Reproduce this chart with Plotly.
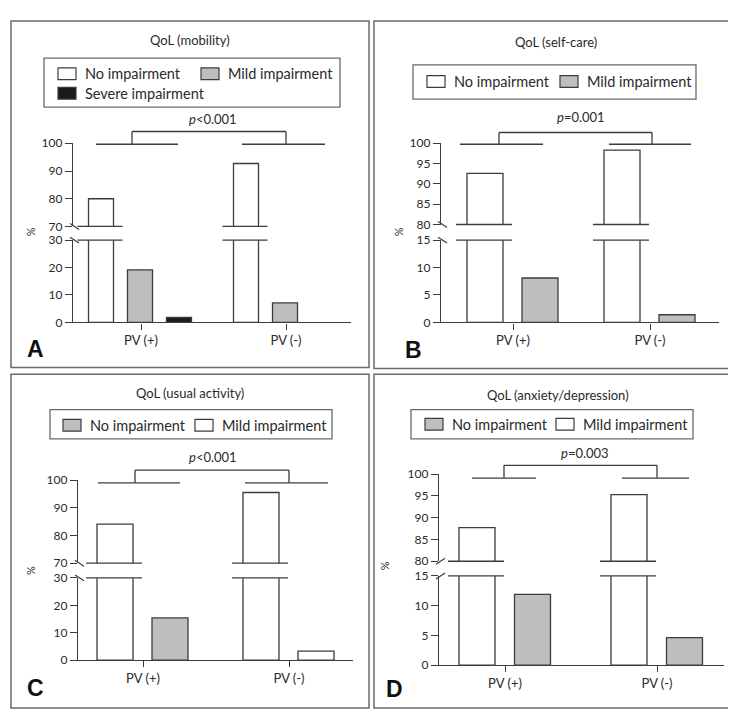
import plotly.graph_objects as go

W, H = 736, 712
groups = ["PV (+)", "PV (-)"]

titles = ["QoL (mobility)", "QoL (self-care)", "QoL (usual activity)", "QoL (anxiety/depression)"]
p_labels = ["<i>p</i><0.001", "<i>p</i>=0.001", "<i>p</i><0.001", "<i>p</i>=0.003"]
panel_letters = ["A", "B", "C", "D"]

# ---- values (%) ----
a_no_impairment = [80.0, 92.7]
a_mild_impairment = [19.2, 7.1]
a_severe_impairment = [1.8, None]
b_no_impairment = [92.6, 98.3]
b_mild_impairment = [8.1, 1.4]
c_bar1 = [84.1, 95.5]
c_bar2 = [15.4, 3.3]
d_bar1 = [87.7, 95.3]
d_bar2 = [11.9, 4.6]

# legend labels as printed
a_legend = ["No impairment", "Mild impairment", "Severe impairment"]
b_legend = ["No impairment", "Mild impairment"]
c_legend = ["No impairment", "Mild impairment"]
d_legend = ["No impairment", "Mild impairment"]

# tick values of the broken axes
ticks_30_low = [0, 10, 20, 30]
ticks_30_high = [70, 80, 90, 100]
ticks_15_low = [0, 5, 10, 15]
ticks_15_high = [80, 85, 90, 95, 100]

# ---- styles ----
WHITE, GREY, BLACK = "#ffffff", "#bebebe", "#1a1a1a"
LINE = "#3c3c3c"
FRAME = "#6a6a6a"
FONT = "Lato"
TXT = "#2a2a2a"

panels = [
    dict(series=[a_no_impairment, a_mild_impairment, a_severe_impairment],
         colors=[[WHITE, WHITE], [GREY, GREY], [BLACK, BLACK]],
         legend=a_legend, swatch=[WHITE, GREY, BLACK],
         low=ticks_30_low, high=ticks_30_high,
         frame=(3, 5, 361, 359), xdom=(65, 343), ticks_px=(133, 278),
         upper=(130, 215), lower=(229, 313),
         offs=[-40, -1, 38], bw=25,
         title_xy=(182, 25), p_xy=(205, 105), letter_xy=(27, 340), pct_xy=(22, 221),
         legbox=(36, 43, 332, 93), legitems=[(50, 59), (193, 59), (50, 79)],
         br_top=12, br_grp=1, br_l=(-45, 37), br_r=(-44, 39), br_v=(-9, 0), slash=1),
    dict(series=[b_no_impairment, b_mild_impairment],
         colors=[[WHITE, WHITE], [GREY, GREY]],
         legend=b_legend, swatch=[WHITE, GREY],
         low=ticks_15_low, high=ticks_15_high,
         frame=(366, 5, 730, 360), xdom=(433, 711), ticks_px=(505, 642),
         upper=(130, 213), lower=(229, 313),
         offs=[-28, 27], bw=36,
         title_xy=(548, 27), p_xy=(573, 103), letter_xy=(405, 341), pct_xy=(390, 221),
         legbox=(405, 50, 688, 85), legitems=[(419, 67), (552, 67)],
         br_top=11, br_grp=1, br_l=(-53, 30), br_r=(-41, 41), br_v=(-14, 2), slash=1),
    dict(series=[c_bar1, c_bar2],
         colors=[[WHITE, WHITE], [GREY, WHITE]],
         legend=c_legend, swatch=[GREY, WHITE],
         low=ticks_30_low, high=ticks_30_high,
         frame=(3, 366, 361, 707), xdom=(70, 345), ticks_px=(135, 281),
         upper=(474, 559), lower=(574, 658),
         offs=[-28, 27], bw=36,
         title_xy=(182, 385), p_xy=(205, 450), letter_xy=(27, 686), pct_xy=(22, 567),
         legbox=(42, 402, 324, 432), legitems=[(55, 418), (187, 418)],
         br_top=10, br_grp=3, br_l=(-45, 37), br_r=(-44, 39), br_v=(-8, 0), slash=1),
    dict(series=[d_bar1, d_bar2],
         colors=[[WHITE, WHITE], [GREY, GREY]],
         legend=d_legend, swatch=[GREY, WHITE],
         low=ticks_15_low, high=ticks_15_high,
         frame=(366, 366, 730, 707), xdom=(431, 716), ticks_px=(497, 649),
         upper=(468, 557), lower=(572, 663),
         offs=[-28, 27.5], bw=36,
         title_xy=(550, 387), p_xy=(577, 446), letter_xy=(386, 687), pct_xy=(376, 562),
         legbox=(403, 402, 685, 432), legitems=[(417, 417), (548, 417)],
         br_top=9, br_grp=4, br_l=(-33, 31), br_r=(-35, 32), br_v=(-1, 0), slash=-1),
]


def fx(px):
    return px / W


def fy(py):
    return 1 - py / H


fig = go.Figure()
shapes, annotations = [], []
layout_axes = {}

for i, pn in enumerate(panels):
    xid = "x" if i == 0 else f"x{i + 1}"
    lo_n, hi_n = 2 * i + 1, 2 * i + 2
    ylo = "y" if lo_n == 1 else f"y{lo_n}"
    yhi = f"y{hi_n}"
    xkey = "xaxis" if i == 0 else f"xaxis{i + 1}"
    ylo_key = "yaxis" if lo_n == 1 else f"yaxis{lo_n}"
    yhi_key = f"yaxis{hi_n}"

    t0, t1 = pn["ticks_px"]
    ppu = (t1 - t0) / (len(groups) - 1)
    x0px, x1px = pn["xdom"]
    xr = [-(t0 - x0px) / ppu, (len(groups) - 1) + (x1px - t1) / ppu]
    low, high = pn["low"], pn["high"]
    lo_max, hi_min, hi_max = max(low), min(high), max(high)

    axis_common = dict(showline=True, linecolor=LINE, linewidth=1.3, ticks="outside",
                       tickcolor=LINE, tickwidth=1.3, showgrid=False, zeroline=False,
                       fixedrange=True)
    layout_axes[xkey] = dict(axis_common, domain=[fx(x0px), fx(x1px)], anchor=ylo,
                             type="category", range=xr, ticklen=6,
                             tickfont=dict(family=FONT, size=13, color=TXT),
                             categoryorder="array", categoryarray=groups)
    yfont = dict(family=FONT, size=12, color=TXT)
    layout_axes[ylo_key] = dict(axis_common, domain=[fy(pn["lower"][1]), fy(pn["lower"][0])],
                                anchor=xid, range=[0, lo_max], tickvals=low, ticklen=7,
                                tickfont=yfont)
    layout_axes[yhi_key] = dict(axis_common, domain=[fy(pn["upper"][1]), fy(pn["upper"][0])],
                                anchor=xid, range=[hi_min, hi_max], tickvals=high, ticklen=7,
                                tickfont=yfont)

    bw = pn["bw"] / ppu
    for k, vals in enumerate(pn["series"]):
        off = pn["offs"][k] / ppu - bw / 2
        for yax in (ylo, yhi):
            fig.add_trace(go.Bar(
                x=groups, y=vals, xaxis=xid, yaxis=yax, width=bw, offset=off,
                marker=dict(color=pn["colors"][k], line=dict(color=LINE, width=1.3)),
                name=pn["legend"][k] if k < len(pn["legend"]) else "",
                showlegend=False, hoverinfo="x+y"))
        # break lines across bars reaching the upper segment
        for g, v in enumerate(vals):
            if v is not None and v > hi_min:
                c = g + pn["offs"][k] / ppu
                xa0 = max(xr[0] + 4 / ppu, c - bw / 2 - 11 / ppu)
                xa1 = c + bw / 2 + 9 / ppu
                for yref, yv in ((yhi + " domain", 0), (ylo + " domain", 1)):
                    shapes.append(dict(type="line", xref=xid, yref=yref, x0=xa0, x1=xa1,
                                       y0=yv, y1=yv, line=dict(color=LINE, width=1.3)))

    # axis break slashes
    s = pn["slash"]
    for ypx in (pn["upper"][1], pn["lower"][0]):
        shapes.append(dict(type="line", xref="paper", yref="paper",
                           x0=fx(x0px - 3), x1=fx(x0px + 6),
                           y0=fy(ypx - 3 * s), y1=fy(ypx + 3 * s),
                           line=dict(color=LINE, width=1.2)))

    # significance bracket
    up_h = pn["upper"][1] - pn["upper"][0]
    yref = yhi + " domain"
    ytop = 1 + pn["br_top"] / up_h
    ygrp = 1 - pn["br_grp"] / up_h
    vx = []
    for g, (l, r) in enumerate((pn["br_l"], pn["br_r"])):
        shapes.append(dict(type="line", xref=xid, yref=yref, x0=g + l / ppu, x1=g + r / ppu,
                           y0=ygrp, y1=ygrp, line=dict(color=LINE, width=1.3)))
        xv = g + pn["br_v"][g] / ppu
        vx.append(xv)
        shapes.append(dict(type="line", xref=xid, yref=yref, x0=xv, x1=xv,
                           y0=ygrp, y1=ytop, line=dict(color=LINE, width=1.3)))
    shapes.append(dict(type="line", xref=xid, yref=yref, x0=vx[0], x1=vx[1],
                       y0=ytop, y1=ytop, line=dict(color=LINE, width=1.3)))

    # panel frame
    f0, f1, f2, f3 = pn["frame"]
    shapes.append(dict(type="rect", xref="paper", yref="paper", x0=fx(f0), x1=fx(f2),
                       y0=fy(f3), y1=fy(f1), line=dict(color=FRAME, width=1.5)))

    # legend box
    b0, b1, b2, b3 = pn["legbox"]
    shapes.append(dict(type="rect", xref="paper", yref="paper", x0=fx(b0), x1=fx(b2),
                       y0=fy(b3), y1=fy(b1), line=dict(color=FRAME, width=1.3)))
    for (sx, sy), lab, col in zip(pn["legitems"], pn["legend"], pn["swatch"]):
        shapes.append(dict(type="rect", xref="paper", yref="paper", x0=fx(sx), x1=fx(sx + 18),
                           y0=fy(sy + 6), y1=fy(sy - 6), fillcolor=col,
                           line=dict(color=LINE, width=1.2)))
        annotations.append(dict(text=lab, xref="paper", yref="paper", x=fx(sx + 25), y=fy(sy),
                                xanchor="left", yanchor="middle", showarrow=False,
                                font=dict(family=FONT, size=14.5, color=TXT)))

    # texts
    annotations.append(dict(text=titles[i], xref="paper", yref="paper",
                            x=fx(pn["title_xy"][0]), y=fy(pn["title_xy"][1]),
                            xanchor="center", yanchor="middle", showarrow=False,
                            font=dict(family=FONT, size=13, color=TXT)))
    annotations.append(dict(text=p_labels[i], xref="paper", yref="paper",
                            x=fx(pn["p_xy"][0]), y=fy(pn["p_xy"][1]),
                            xanchor="center", yanchor="middle", showarrow=False,
                            font=dict(family=FONT, size=13, color=TXT)))
    annotations.append(dict(text="<b>" + panel_letters[i] + "</b>", xref="paper", yref="paper",
                            x=fx(pn["letter_xy"][0]), y=fy(pn["letter_xy"][1]),
                            xanchor="center", yanchor="middle", showarrow=False,
                            font=dict(family="Liberation Sans", size=23, color="#111111")))
    annotations.append(dict(text="%", xref="paper", yref="paper", textangle=-90,
                            x=fx(pn["pct_xy"][0]), y=fy(pn["pct_xy"][1]),
                            xanchor="center", yanchor="middle", showarrow=False,
                            font=dict(family=FONT, size=11, color=TXT)))

fig.update_layout(
    width=W, height=H, margin=dict(l=0, r=0, t=0, b=0),
    paper_bgcolor="white", plot_bgcolor="rgba(0,0,0,0)",
    barmode="overlay", showlegend=False,
    shapes=shapes, annotations=annotations,
    font=dict(family=FONT, color=TXT),
    **layout_axes,
)

fig.write_html("out.html", config={"displayModeBar": False})
